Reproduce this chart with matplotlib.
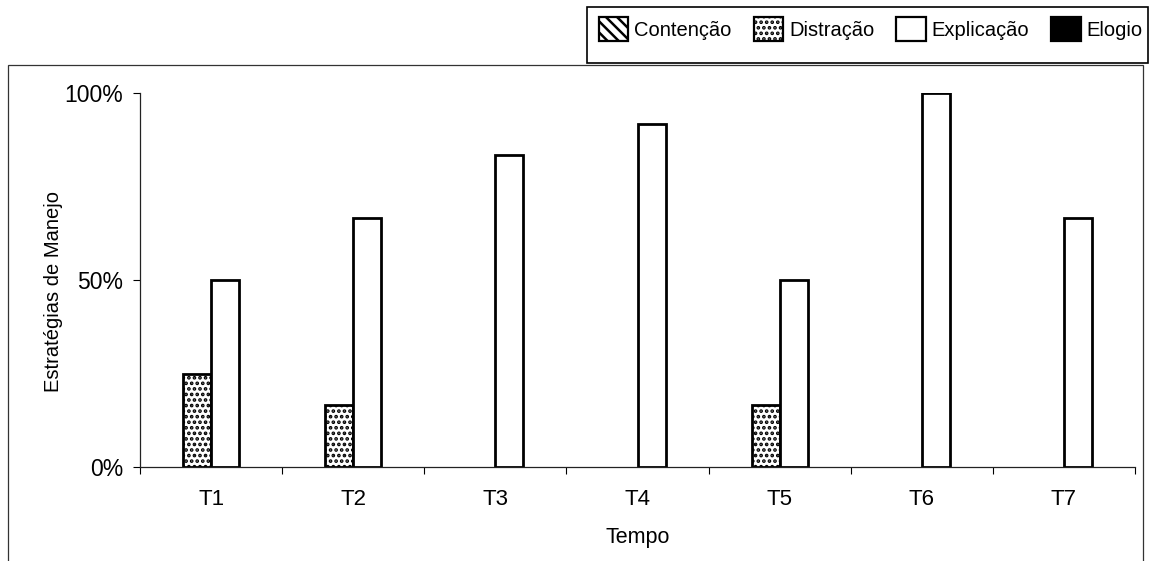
import matplotlib.pyplot as plt
import numpy as np
from matplotlib.patches import Patch, Rectangle

plt.rcParams['font.family'] = ['Liberation Sans', 'DejaVu Sans']
plt.rcParams['hatch.linewidth'] = 1.8

W, H = 1150, 561

categories = ['T1', 'T2', 'T3', 'T4', 'T5', 'T6', 'T7']
contencao = [0, 0, 0, 0, 0, 0, 0]
distracao = [0.25, 0.167, 0, 0, 0.167, 0, 0]
explicacao = [0.50, 0.667, 0.833, 0.917, 0.50, 1.0, 0.667]
elogio = [0, 0, 0, 0, 0, 0, 0]
series_names = ['Contenção', 'Distração', 'Explicação', 'Elogio']
y_ticks = [0, 0.5, 1.0]
y_tick_labels = ['0%', '50%', '100%']


def fx(px):
    return px / W


def fy(py):
    return 1 - py / H


fig = plt.figure(figsize=(W / 100, H / 100), dpi=100)
ax = fig.add_axes([fx(140), fy(467), fx(1135) - fx(140), fy(93) - fy(467)])

x = np.arange(len(categories))
width = 0.197
styles = [
    dict(color='white', hatch='\\\\\\'),
    dict(color='white', hatch='...'),
    dict(color='white', hatch=None),
    dict(color='black', hatch=None),
]
handles = []
for i, (vals, st) in enumerate(zip([contencao, distracao, explicacao, elogio], styles)):
    offs = (i - 1.5) * width
    bars = ax.bar(x + offs, vals, width, color=st['color'], hatch=st['hatch'],
                  edgecolor='black', linewidth=2.0)
    # Excel does not show zero-height columns
    for b, v in zip(bars, vals):
        if v == 0:
            b.set_visible(False)
    handles.append(Patch(facecolor=st['color'], hatch=st['hatch'],
                         edgecolor='black', linewidth=1.6))

ax.set_xlim(-0.5, len(categories) - 0.5)
ax.set_ylim(0, 1.0)
ax.set_yticks(y_ticks)
ax.set_yticklabels(y_tick_labels, fontsize=16.5)
ax.set_xticks(x)
ax.set_xticklabels(categories, fontsize=16)
ax.set_xticks(np.arange(len(categories) + 1) - 0.5, minor=True)
ax.tick_params(axis='x', which='major', length=0, pad=16)
ax.tick_params(axis='x', which='minor', length=5, direction='out', width=0.8)
ax.tick_params(axis='y', length=5, direction='out', width=0.8, pad=7)
for s in ['top', 'right']:
    ax.spines[s].set_visible(False)
for s in ['left', 'bottom']:
    ax.spines[s].set_linewidth(0.9)
    ax.spines[s].set_color('#222222')

ax.set_ylabel('Estratégias de Manejo', fontsize=14.5)
ax.yaxis.set_label_coords(-0.0774, 0.47)
ax.set_xlabel('Tempo', fontsize=15.5, labelpad=12)

# outer chart frame
fig.add_artist(Rectangle((fx(8), -0.02), fx(1143) - fx(8), fy(65) + 0.02,
                         transform=fig.transFigure, fill=False,
                         edgecolor='#333333', linewidth=0.9))
# legend box
fig.add_artist(Rectangle((fx(587), fy(63)), fx(1148) - fx(587), fy(7) - fy(63),
                         transform=fig.transFigure, fill=False,
                         edgecolor='black', linewidth=1.2))

fig.legend(handles=handles, labels=series_names, ncol=4, frameon=False,
           loc='center left', bbox_to_anchor=(fx(599), fy(29)),
           fontsize=14.5, handlelength=1.45, handleheight=1.4,
           handletextpad=0.3, columnspacing=1.1, borderpad=0, borderaxespad=0)

fig.savefig('out.png', dpi=100)
